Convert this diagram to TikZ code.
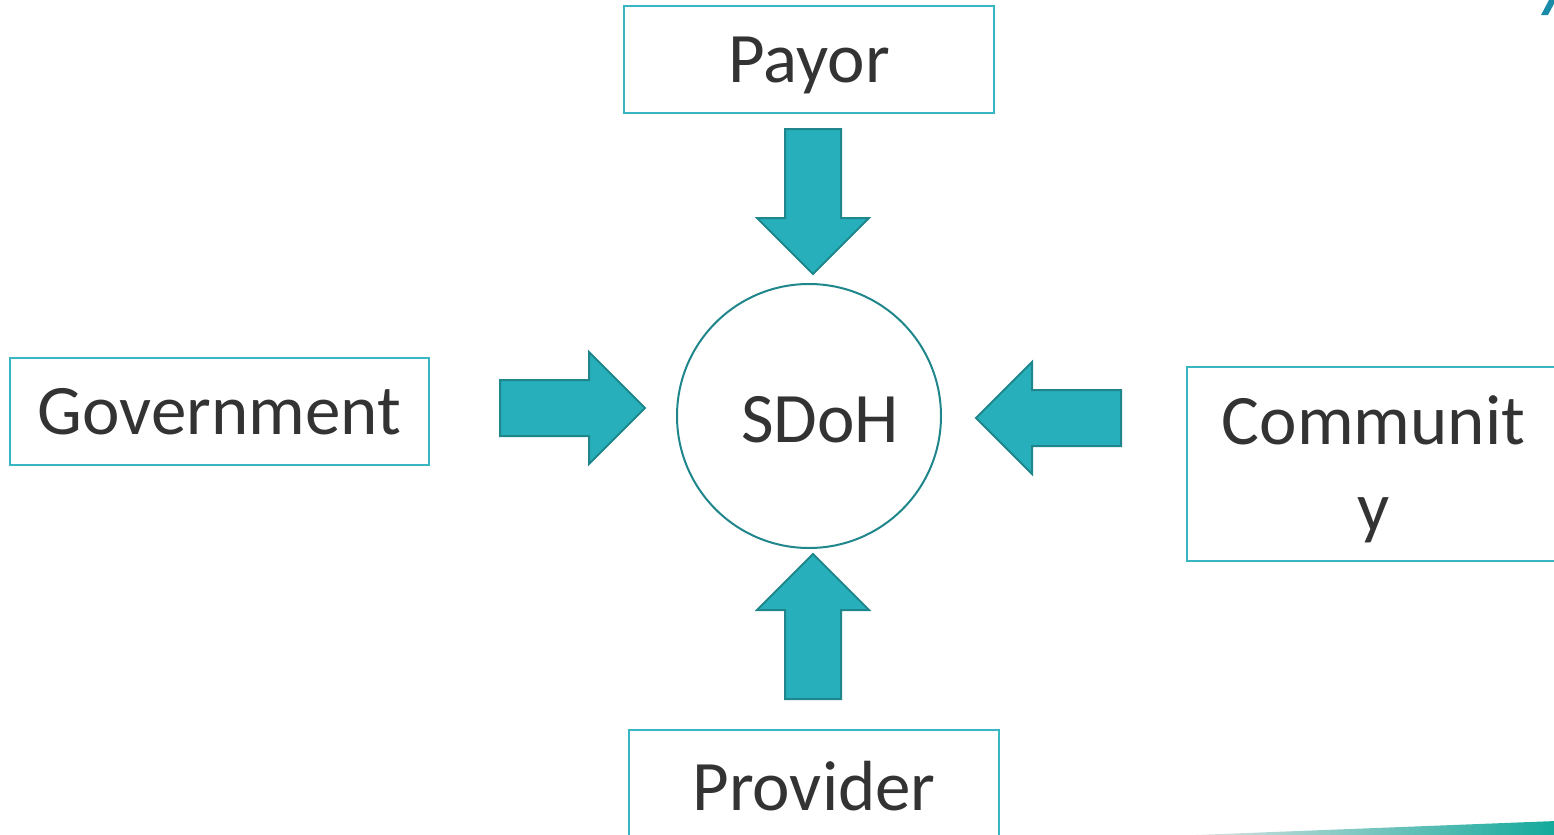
\documentclass[tikz,border=0pt]{standalone}
\usepackage{fontspec}
\setmainfont{Carlito}
\definecolor{boxline}{HTML}{3AB6C2}
\definecolor{arrowfill}{HTML}{27B0BB}
\definecolor{arrowline}{HTML}{1F878C}
\definecolor{swoosh}{HTML}{12A99B}
\definecolor{cornermark}{HTML}{1A8CA8}
\definecolor{textgray}{HTML}{333333}
\tikzset{
  party/.style={draw=boxline, line width=1pt, text=textgray, font=\fontsize{35.5}{43.5}\selectfont, align=center, inner sep=0pt},
  pics/inarrow/.style={code={
    \draw[fill=arrowfill, draw=arrowline, line width=1pt, line join=miter]
      (0,0) -- (-56,56) -- (-56,28) -- (-145,28) -- (-145,-28) -- (-56,-28) -- (-56,-56) -- cycle;
  }}
}
\begin{document}
\begin{tikzpicture}[x=0.5pt, y=-0.5pt]
  \useasboundingbox (0,0) rectangle (1554,835);
  \node[party, text depth=0pt, minimum width=185pt, minimum height=53.5pt] (payor) at (809,59.5) {Payor};
  \node[party, minimum width=209.5pt, minimum height=53.5pt] (gov) at (219.5,411.5) {Government};
  \node[party, minimum width=186.5pt, minimum height=97pt] (comm) at (1373.5,464) {\rule{0pt}{30pt}Communit\\y};
  \node[party, minimum width=185pt, minimum height=56pt] (prov) at (814,786) {Provider};
  \node[draw=arrowline, line width=1pt, circle, minimum size=132pt] (sdoh) at (809,416) {};
  \node[text=textgray, font=\fontsize{35.5}{43.5}\selectfont] at ([shift={(11,4)}]sdoh.center) {SDoH};
  % block arrows pointing in
  \pic at (645,408) {inarrow};
  \pic[rotate=-90] at (813,274) {inarrow};
  \pic[rotate=180] at (976,418) {inarrow};
  \pic[rotate=90] at (813,554) {inarrow};
  % corner decorations
  \fill[cornermark] (1541,15) -- (1549,0) -- (1556,0) -- (1548,15) -- cycle;
  \shade[left color=gray!20, middle color=swoosh!80!gray, right color=swoosh] (1170,836) -- (1556,821) -- (1556,836) -- cycle;
\end{tikzpicture}
\end{document}
